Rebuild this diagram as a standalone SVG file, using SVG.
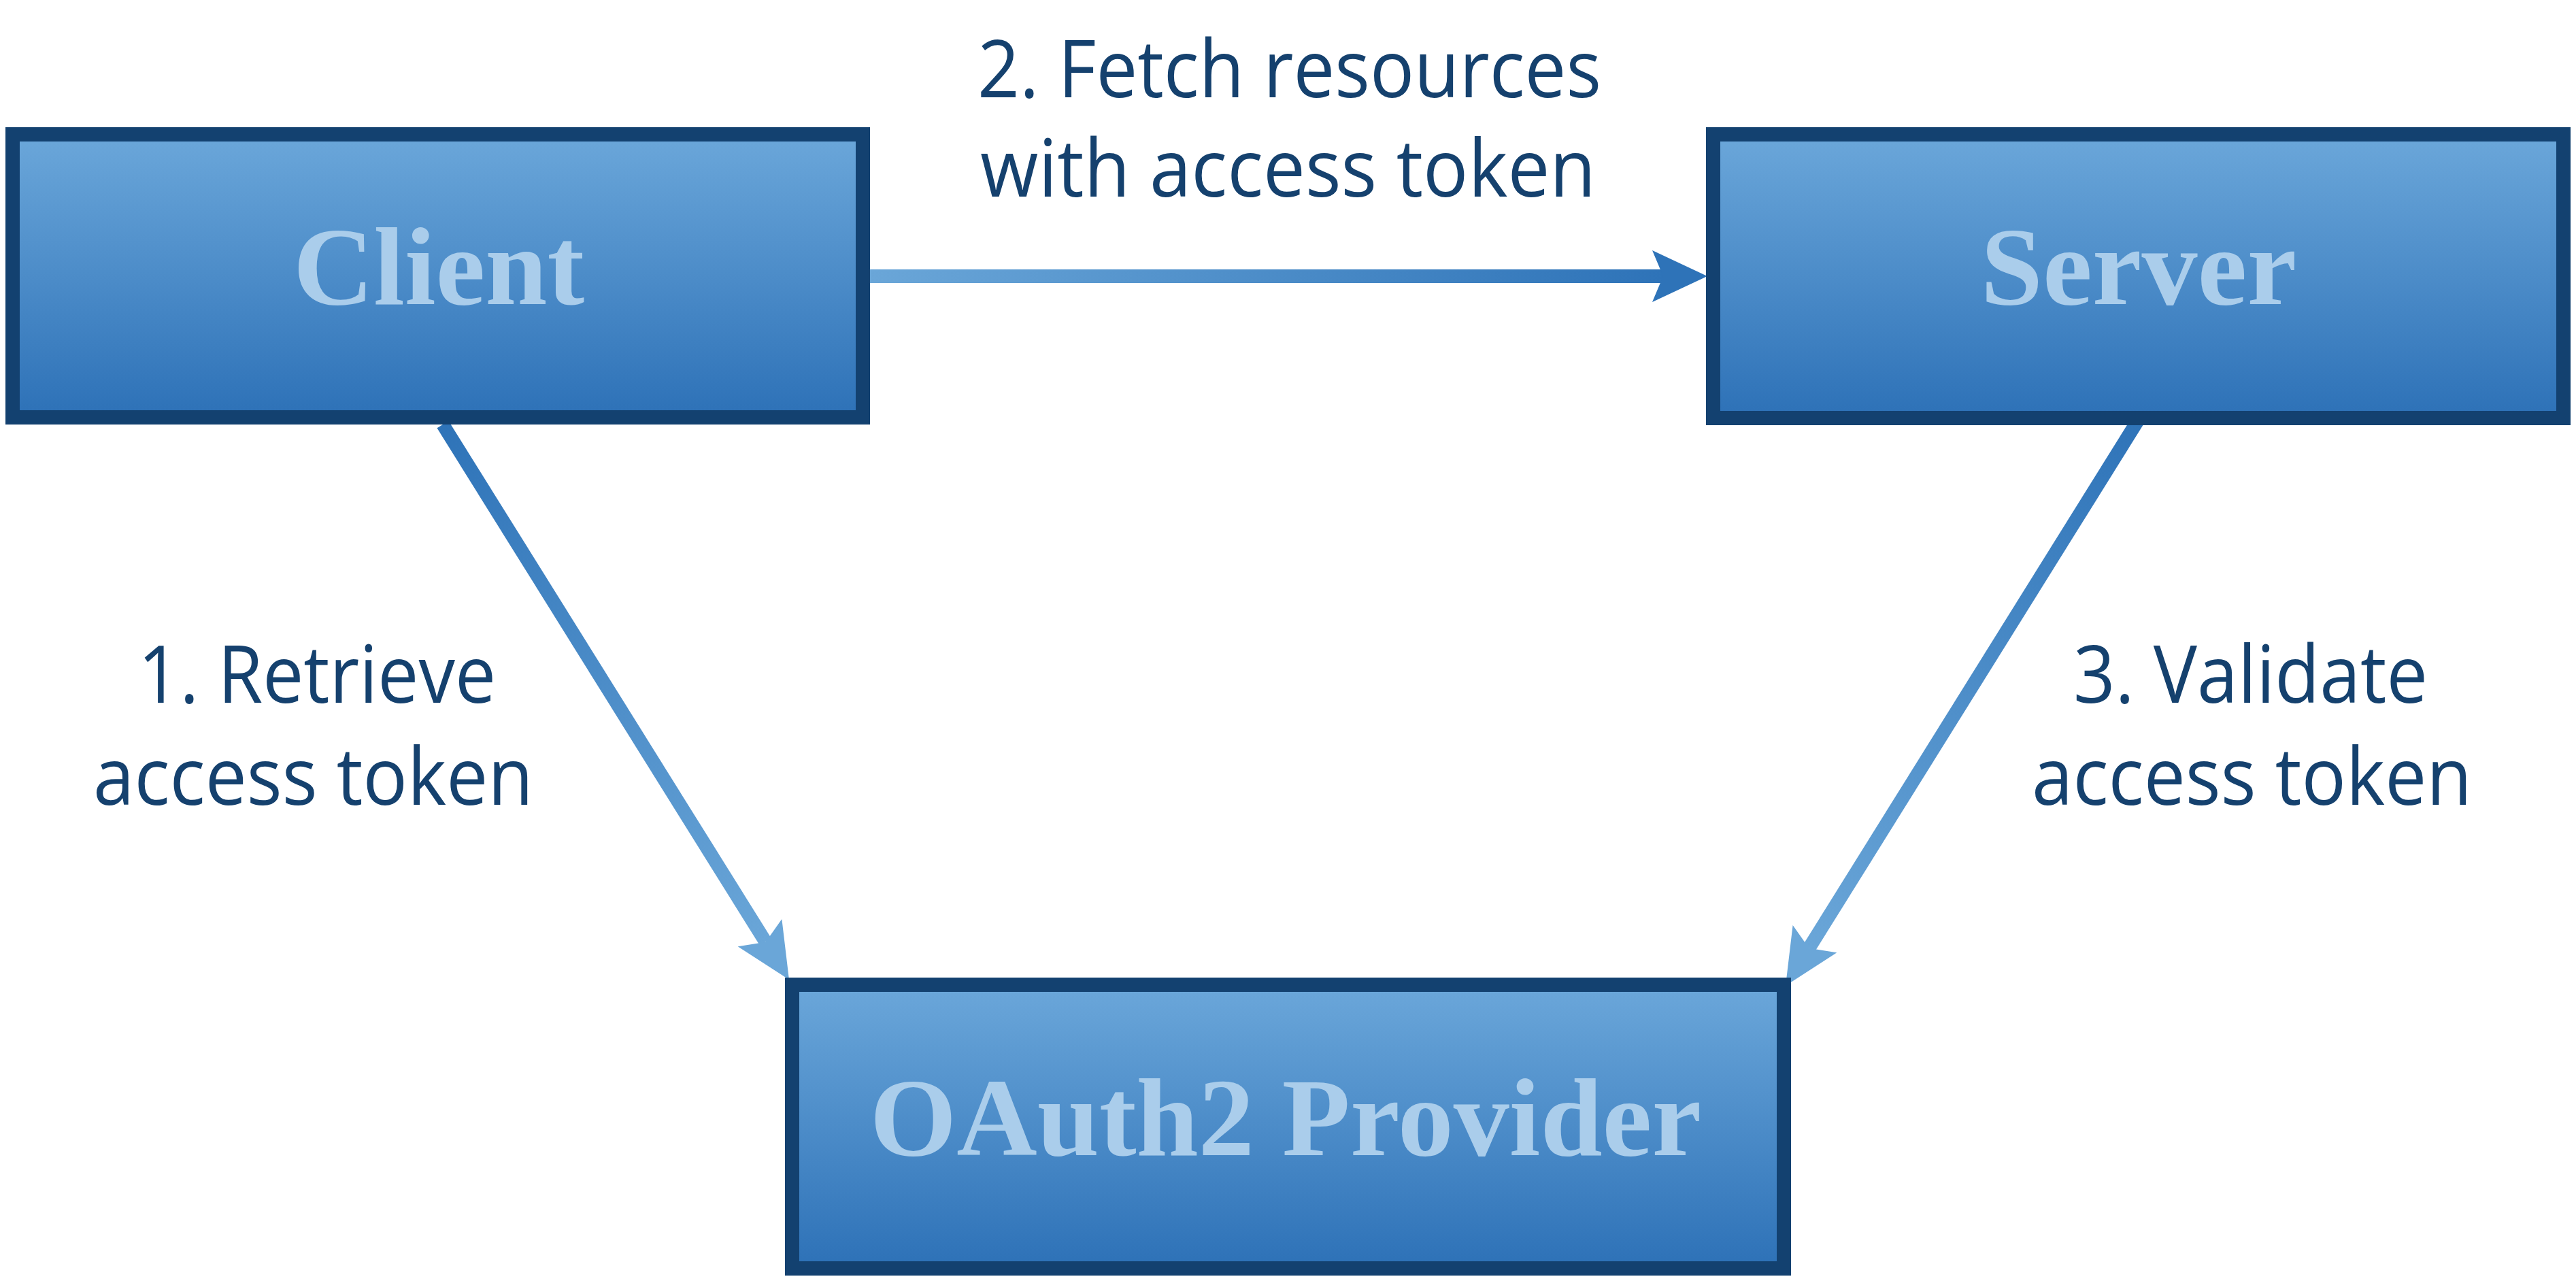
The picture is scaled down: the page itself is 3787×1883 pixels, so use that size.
<svg xmlns="http://www.w3.org/2000/svg" width="3787" height="1883" viewBox="0 0 3787 1883">
  <style>
    .box { stroke: #134170; stroke-width: 21; fill: url(#boxFill); }
    .nodeText { font-family: "Liberation Serif", "Times New Roman", serif; font-weight: bold; font-size: 164px; fill: #aacdeb; text-anchor: middle; }
    .label { font-family: "Open Sans", "Noto Sans", sans-serif; font-size: 118px; fill: #15416e; }
    .shaft { stroke-width: 20; fill: none; }
  </style>
  <defs>
    <linearGradient id="boxFill" x1="0" y1="0" x2="0" y2="1">
      <stop offset="0" stop-color="#6ba7da"/>
      <stop offset="1" stop-color="#2d71b7"/>
    </linearGradient>
    <linearGradient id="gH" gradientUnits="userSpaceOnUse" x1="1279" y1="406" x2="2445" y2="406">
      <stop offset="0" stop-color="#6aa6d8"/>
      <stop offset="1" stop-color="#2e73b8"/>
    </linearGradient>
    <linearGradient id="g1" gradientUnits="userSpaceOnUse" x1="651" y1="624" x2="1126" y2="1385">
      <stop offset="0" stop-color="#2e73b8"/>
      <stop offset="1" stop-color="#6aa6d8"/>
    </linearGradient>
    <linearGradient id="g3" gradientUnits="userSpaceOnUse" x1="3148" y1="610" x2="2659" y2="1394">
      <stop offset="0" stop-color="#2e73b8"/>
      <stop offset="1" stop-color="#6aa6d8"/>
    </linearGradient>
    <marker id="headDark" markerUnits="userSpaceOnUse" markerWidth="81" markerHeight="76" viewBox="0 0 81 76" refX="16" refY="38" orient="auto">
      <path d="M81,38 L0,0 L16,38 L0,76 Z" fill="#2e73b8"/>
    </marker>
    <marker id="headLight" markerUnits="userSpaceOnUse" markerWidth="81" markerHeight="76" viewBox="0 0 81 76" refX="16" refY="38" orient="auto">
      <path d="M81,38 L0,0 L16,38 L0,76 Z" fill="#6aa6d8"/>
    </marker>
  </defs>

  <g id="connectors">
    <line class="shaft" x1="1279" y1="406" x2="2445" y2="406" stroke="url(#gH)" marker-end="url(#headDark)"/>
    <line class="shaft" x1="651" y1="624" x2="1125.6" y2="1384.8" stroke="url(#g1)" marker-end="url(#headLight)"/>
    <line class="shaft" x1="3148" y1="610" x2="2659.4" y2="1393.8" stroke="url(#g3)" marker-end="url(#headLight)"/>
    <text class="label" x="1437" y="143" textLength="917" lengthAdjust="spacingAndGlyphs">2. Fetch resources</text>
    <text class="label" x="1441" y="289" textLength="905" lengthAdjust="spacingAndGlyphs">with access token</text>
    <text class="label" x="203" y="1033" textLength="526" lengthAdjust="spacingAndGlyphs">1. Retrieve</text>
    <text class="label" x="137" y="1183" textLength="647" lengthAdjust="spacingAndGlyphs">access token</text>
    <text class="label" x="3048" y="1033" textLength="521" lengthAdjust="spacingAndGlyphs">3. Validate</text>
    <text class="label" x="2987" y="1183" textLength="647" lengthAdjust="spacingAndGlyphs">access token</text>
  </g>

  <g id="client">
    <rect class="box" x="18.5" y="197.5" width="1250" height="416"/>
    <text class="nodeText" x="645" y="447">Client</text>
  </g>
  <g id="server">
    <rect class="box" x="2518.5" y="197.5" width="1250" height="417"/>
    <text class="nodeText" x="3144" y="447">Server</text>
  </g>
  <g id="oauth2-provider">
    <rect class="box" x="1164.5" y="1447.5" width="1458" height="417"/>
    <text class="nodeText" x="1890" y="1698">OAuth2 Provider</text>
  </g>
</svg>
